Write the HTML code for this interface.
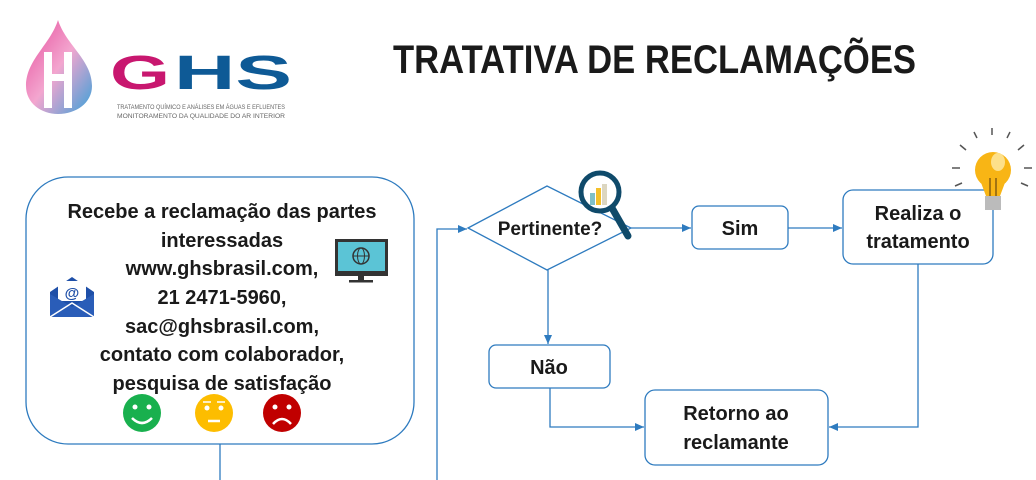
<!DOCTYPE html>
<html><head><meta charset="utf-8"><style>
html,body{margin:0;padding:0;background:#fff;}
svg{display:block;}
text{font-family:"Liberation Sans",sans-serif;font-weight:bold;fill:#1a1a1a;}
</style></head><body>
<svg width="1036" height="480" viewBox="0 0 1036 480" xmlns="http://www.w3.org/2000/svg">
<defs>
<marker id="ar" markerWidth="10" markerHeight="10" refX="9" refY="5" orient="auto" markerUnits="userSpaceOnUse">
<path d="M0,1 L9,5 L0,9 Z" fill="#2e7bbf"/></marker>
<linearGradient id="drop" x1="0" y1="0" x2="1" y2="1"><stop offset="0" stop-color="#e64a9a"/><stop offset="0.5" stop-color="#f3a6cf"/><stop offset="1" stop-color="#3aa0d8"/></linearGradient>
</defs>
<!-- logo -->
<path d="M58,20 C50,45 26,60 26,86 C26,103 41,114 58,114 C76,114 92,103 92,86 C92,60 66,45 58,20 Z" fill="url(#drop)"/>
<rect x="44" y="52" width="8" height="56" fill="#fff"/><rect x="64" y="52" width="8" height="56" fill="#fff"/><rect x="44" y="74" width="28" height="7" fill="#fff"/>
<text x="110" y="89" font-size="48" style="fill:#c8176f" textLength="60" lengthAdjust="spacingAndGlyphs">G</text>
<text x="174" y="89" font-size="48" style="fill:#0e5a96" textLength="118" lengthAdjust="spacingAndGlyphs">HS</text>
<text x="117" y="109" font-size="6" style="fill:#666;font-weight:normal" textLength="168" lengthAdjust="spacingAndGlyphs">TRATAMENTO QUÍMICO E ANÁLISES EM ÁGUAS E EFLUENTES</text>
<text x="117" y="118" font-size="6" style="fill:#666;font-weight:normal" textLength="168" lengthAdjust="spacingAndGlyphs">MONITORAMENTO DA QUALIDADE DO AR INTERIOR</text>
<!-- title -->
<text x="393" y="73" font-size="40" textLength="523" lengthAdjust="spacingAndGlyphs">TRATATIVA DE RECLAMAÇÕES</text>
<!-- left box -->
<rect x="26" y="177" width="388" height="267" rx="42" fill="#fff" stroke="#2e7bbf" stroke-width="1.3"/>
<g font-size="20" text-anchor="middle">
<text x="222" y="218">Recebe a reclamação das partes</text>
<text x="222" y="247">interessadas</text>
<text x="222" y="275">www.ghsbrasil.com,</text>
<text x="222" y="304">21 2471-5960,</text>
<text x="222" y="333">sac@ghsbrasil.com,</text>
<text x="222" y="361">contato com colaborador,</text>
<text x="222" y="390">pesquisa de satisfação</text>
</g>
<!-- email icon -->
<path d="M50,292 L72,277 L94,292 L94,317 L50,317 Z" fill="#1e4fa8"/>
<rect x="58" y="281" width="28" height="20" fill="#fff"/>
<text x="72" y="298" font-size="15" text-anchor="middle" style="fill:#1e4fa8">@</text>
<path d="M50,294 L72,307 L94,294 L94,317 L50,317 Z" fill="#2a5db8"/>
<path d="M50,317 L72,303 L94,317" stroke="#fff" stroke-width="1.5" fill="none"/>
<!-- monitor -->
<rect x="335" y="239" width="53" height="37" fill="#333"/><rect x="338" y="242" width="47" height="29" fill="#5bc4d6"/>
<circle cx="361" cy="256" r="8" fill="none" stroke="#333" stroke-width="1.5"/><line x1="353" y1="256" x2="369" y2="256" stroke="#333"/><ellipse cx="361" cy="256" rx="3.5" ry="8" fill="none" stroke="#333"/>
<rect x="358" y="276" width="6" height="4" fill="#333"/><rect x="349" y="280" width="24" height="2.5" fill="#333"/>
<!-- faces -->
<circle cx="142" cy="413" r="19" fill="#19b04e"/><circle cx="135" cy="407" r="2.5" fill="#fff"/><circle cx="149" cy="407" r="2.5" fill="#fff"/><path d="M132,418 Q142,428 152,418" stroke="#fff" stroke-width="2.5" fill="none"/>
<circle cx="214" cy="413" r="19" fill="#fdbd00"/><circle cx="207" cy="408" r="2.5" fill="#fff"/><circle cx="221" cy="408" r="2.5" fill="#fff"/><line x1="203" y1="402" x2="211" y2="402" stroke="#fff" stroke-width="1.5"/><line x1="217" y1="402" x2="225" y2="402" stroke="#fff" stroke-width="1.5"/><line x1="208" y1="421" x2="220" y2="421" stroke="#fff" stroke-width="2.5"/>
<circle cx="282" cy="413" r="19" fill="#c00000"/><circle cx="275" cy="407" r="2.5" fill="#fff"/><circle cx="289" cy="407" r="2.5" fill="#fff"/><path d="M273,424 Q282,414 291,424" stroke="#fff" stroke-width="2.5" fill="none"/>
<!-- connectors -->
<g stroke="#2e7bbf" stroke-width="1.3" fill="none">
<line x1="220" y1="444" x2="220" y2="480"/>
<polyline points="437,480 437,229 467,229" marker-end="url(#ar)"/>
<line x1="631" y1="228" x2="691" y2="228" marker-end="url(#ar)"/>
<line x1="788" y1="228" x2="842" y2="228" marker-end="url(#ar)"/>
<line x1="548" y1="270" x2="548" y2="344" marker-end="url(#ar)"/>
<polyline points="550,388 550,427 644,427" marker-end="url(#ar)"/>
<polyline points="918,264 918,427 829,427" marker-end="url(#ar)"/>
</g>
<!-- diamond -->
<polygon points="468,228 547,186 631,228 547,270" fill="#fff" stroke="#2e7bbf" stroke-width="1.3"/>
<text x="550" y="235" font-size="19" text-anchor="middle">Pertinente?</text>
<!-- magnifier -->
<rect x="590" y="193" width="5" height="12" fill="#7fc0c8"/><rect x="596" y="188" width="5" height="17" fill="#f4c02a"/><rect x="602" y="184" width="5" height="21" fill="#dcd6c0"/>
<circle cx="600" cy="192" r="19" fill="none" stroke="#0f4a6a" stroke-width="5"/>
<line x1="612" y1="208" x2="628" y2="236" stroke="#0f4a6a" stroke-width="7" stroke-linecap="round"/>
<!-- boxes -->
<g fill="#fff" stroke="#2e7bbf" stroke-width="1.3">
<rect x="692" y="206" width="96" height="43" rx="7"/>
<rect x="843" y="190" width="150" height="74" rx="10"/>
<rect x="489" y="345" width="121" height="43" rx="7"/>
<rect x="645" y="390" width="183" height="75" rx="10"/>
</g>
<g font-size="20" text-anchor="middle">
<text x="740" y="235">Sim</text>
<text x="918" y="220">Realiza o</text>
<text x="918" y="248">tratamento</text>
<text x="549" y="374">Não</text>
<text x="736" y="420">Retorno ao</text>
<text x="736" y="449">reclamante</text>
</g>
<!-- bulb -->
<g stroke="#555" stroke-width="1.5">
<line x1="992" y1="128" x2="992" y2="135"/><line x1="974" y1="132" x2="977" y2="138"/><line x1="1010" y1="132" x2="1007" y2="138"/>
<line x1="960" y1="145" x2="966" y2="150"/><line x1="1024" y1="145" x2="1018" y2="150"/>
<line x1="952" y1="168" x2="960" y2="168"/><line x1="1024" y1="168" x2="1032" y2="168"/>
<line x1="955" y1="186" x2="962" y2="183"/><line x1="1028" y1="186" x2="1021" y2="183"/>
</g>
<circle cx="993" cy="170" r="18" fill="#f8b515"/><path d="M980,180 L1006,180 L1000,196 L986,196 Z" fill="#f8b515"/>
<ellipse cx="998" cy="162" rx="7" ry="9" fill="#fde08a"/>
<rect x="985" y="196" width="16" height="14" fill="#bbb"/>
<line x1="990" y1="178" x2="990" y2="196" stroke="#6a4a10" stroke-width="1.2"/><line x1="996" y1="178" x2="996" y2="196" stroke="#6a4a10" stroke-width="1.2"/>
</svg>
</body></html>
